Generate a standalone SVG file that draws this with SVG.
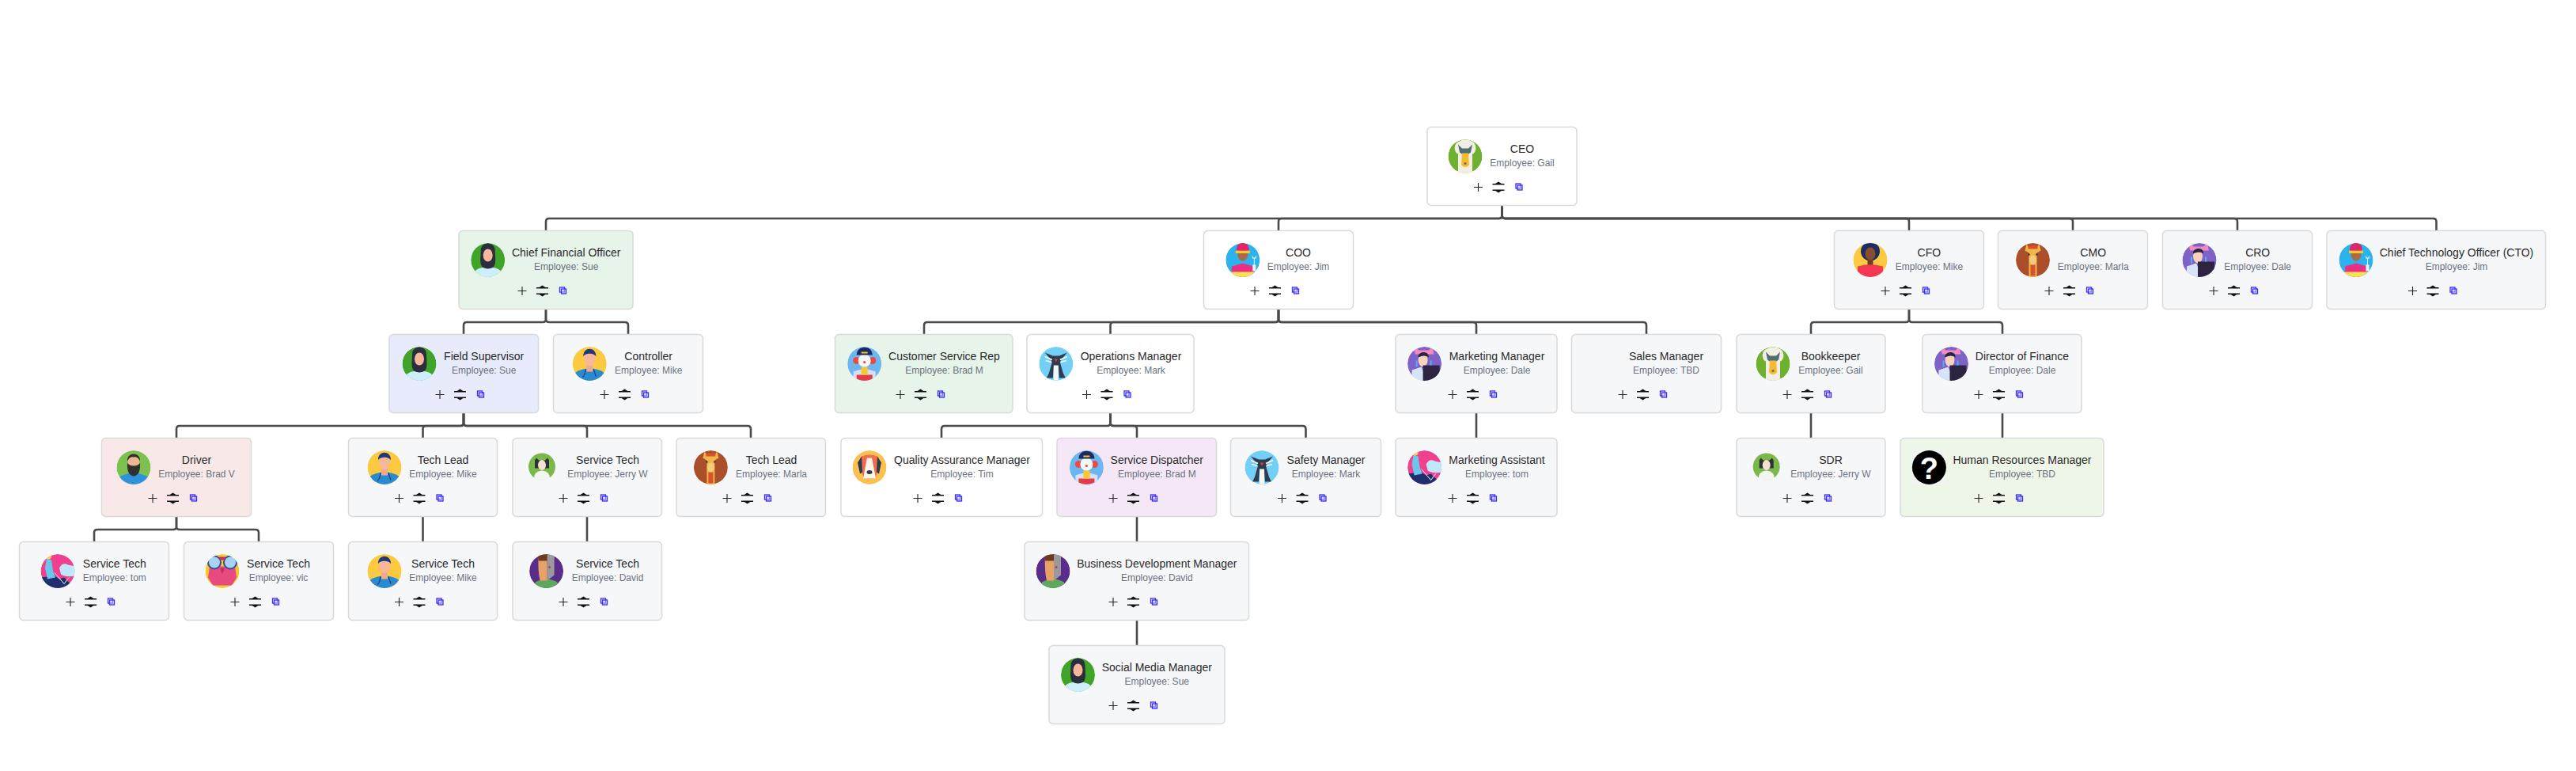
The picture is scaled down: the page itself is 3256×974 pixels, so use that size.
<svg xmlns="http://www.w3.org/2000/svg" width="3256" height="974" viewBox="0 0 3256 974">
<style>
text{text-anchor:middle;font-family:"Liberation Sans",Arial,sans-serif}
.t{font-size:14px;fill:#2a2a2a}
.s{font-size:12px;fill:#6b7280}
.b{stroke:#d9d9d9;stroke-width:1.5;fill:#f6f7f9}
.w{fill:#fff}.g{fill:#e6f4ea}.l{fill:#e8ebfb}.p{fill:#f8e8e8}.v{fill:#f4e8f7}.h{fill:#eef6e8}
#conn path{fill:none;stroke:#4a4a4a;stroke-width:2.6}
</style>
<defs>
<clipPath id="c"><circle r="21.5"/></clipPath>
<g id="ctl">
<path d="M-35.500,0H-24.500M-30,-5.500V5.500" stroke="#222" stroke-width="1.100" fill="none"/>
<path d="M-12,-3.700H3M-12,3.700H3" stroke="#111" stroke-width="1.400" fill="none"/>
<path d="M-9.500,-3.700L-4.500,-7L0.500,-3.700ZM-9.500,3.700L-4.500,7L0.500,3.700Z" fill="#111"/>
<rect x="17.500" y="-4.500" width="6" height="6" fill="none" stroke="#3a2bf5" stroke-width="1.300"/>
<rect x="19.500" y="-2.500" width="6" height="6" fill="#c9c6fb" fill-opacity=".5" stroke="#3a2bf5" stroke-width="1.300"/>
</g>
<g id="a-goose" clip-path="url(#c)"><circle r="21.5" fill="#6db12f"/>
<path d="M-9,22V-3C-15,-5 -15,-17 -7,-19C-3,-22 4,-22 8,-19C15,-17 15,-5 9,-3V22Z" fill="#f3eee3"/>
<path d="M-9,-15L-4,-10H4L9,-15L7,-5L3,-2H-3L-7,-5Z" fill="#4f6f73"/>
<path d="M-4,-4H4L5,11Q0,16 -5,11Z" fill="#f6b92f"/><circle cy="9" r="1.5" fill="#4f6f73"/></g>
<g id="a-hijab" clip-path="url(#c)"><circle r="21.5" fill="#3fa428"/>
<path d="M-20,22C-18,11 -10,9 0,9C10,9 18,11 20,22Z" fill="#cdeefb"/>
<path d="M-9,-12C-9,-24 9,-24 9,-12C9,-4 11,4 7,9Q0,13 -7,9C-11,4 -9,-4 -9,-12Z" fill="#2b2f3c"/>
<ellipse cy="-6" rx="6" ry="8" fill="#f7b6a0"/></g>
<g id="a-nurse" clip-path="url(#c)"><circle r="21.5" fill="#fcc93f"/>
<path d="M-18,22V11Q-10,6 0,6Q10,6 18,11V22Z" fill="#2a8ad0"/>
<rect x="-4" y="0" width="8" height="10" fill="#f2a98e"/>
<ellipse cy="-7" rx="7" ry="10" fill="#f9b79a"/>
<path d="M-8,-9C-9,-22 9,-22 8,-9C6,-14 -6,-14 -8,-9Z" fill="#1e3a78"/>
<path d="M-5,7Q-6,15 -9,17M5,7Q7,13 8,16" stroke="#1e3a78" stroke-width="1.2" fill="none"/></g>
<g id="a-beard" clip-path="url(#c)"><circle r="21.5" fill="#7cc04f"/>
<path d="M-18,22V12Q-8,7 0,7Q8,7 18,12V22Z" fill="#2f92dc"/>
<ellipse cy="-6" rx="7.5" ry="10" fill="#f0b593"/>
<path d="M-8,-6Q-9,10 0,11Q9,10 8,-6Q6,-2 0,-2Q-6,-2 -8,-6Z" fill="#30302f"/>
<path d="M-8,-8C-9,-20 9,-20 8,-8Q5,-14 0,-13Q-5,-14 -8,-8Z" fill="#30302f"/></g>
<g id="a-jerry"><circle r="17" fill="#7bb84a"/>
<path d="M-10,15Q-10,6 0,5Q10,6 10,15Q5,17.500 0,17.500Q-5,17.500 -10,15Z" fill="#f3f5f1"/>
<path d="M-9,-8L-7,-11L-4,-8H4L7,-11L9,-8V2H-9Z" fill="#2b3238"/>
<ellipse cy="-2" rx="5" ry="6.500" fill="#f7e0d0"/></g>
<g id="a-tom" clip-path="url(#c)"><circle r="21.5" fill="#f0408e"/>
<path d="M-22,8L-4,6L2,10L8,8L22,22H-22Z" fill="#1f2f6e"/>
<path d="M2,-4Q6,-12 13,-8L22,-6V6Q10,8 4,4Z" fill="#bfe8fb"/>
<path d="M-14,-16L-8,-14L-6,0L-3,8L-13,10L-16,-4Z" fill="#6ac7ec"/>
<circle cx="-12" cy="-19" r="4" fill="#f8d24a"/>
<path d="M-4,2L8,16L14,8" stroke="#fff" stroke-width="1" fill="none"/></g>
<g id="a-vic" clip-path="url(#c)"><circle r="21.5" fill="#f4c82e"/>
<path d="M-16,-6H16L18,8L12,18H-12L-18,8Z" fill="#e84a80"/>
<circle cx="-10" cy="-11" r="8" fill="#a7d3f5" stroke="#33509a" stroke-width="2"/>
<circle cx="10" cy="-11" r="8" fill="#a7d3f5" stroke="#33509a" stroke-width="2"/>
<path d="M-4,-18H4V-14H-4ZM-3,-4H3L0,4Z" fill="#c22f5f"/></g>
<g id="a-david" clip-path="url(#c)"><circle r="21.5" fill="#5b2d8a"/>
<path d="M-14,22V14Q0,6 14,14V22Z" fill="#5da85a"/>
<path d="M-10,-21H1V12H-8Q-11,0 -10,-21Z" fill="#e8a268"/>
<path d="M1,-21H10V5L1,12Z" fill="#9a9a9d"/>
<path d="M-11,-21H1V-13H-10Z" fill="#6e3a1f"/><circle cx="4" cy="-5" r="1.500" fill="#c8354a"/></g>
<g id="a-giraffe" clip-path="url(#c)"><circle r="21.5" fill="#ab4f2b"/>
<path d="M-8,-20L-10,-12L-5,-9L-5,22H5V-9L10,-12L8,-20L4,-15H-4Z" fill="#f0b64a"/>
<path d="M-6,-18H6V-14H-6ZM-3,6H3V20H-3Z" fill="#d9512c"/>
<ellipse cy="0" rx="4.500" ry="6" fill="#f5cc7a"/><circle cx="-5" cy="-7" r="1.200" fill="#333"/><circle cx="5" cy="-7" r="1.200" fill="#333"/></g>
<g id="a-dog" clip-path="url(#c)"><circle r="21.5" fill="#fcc04f"/>
<path d="M-10,-14Q0,-18 10,-14Q13,2 7,14H-7Q-13,2 -10,-14Z" fill="#ef6d4f"/>
<path d="M-3,-12H3L8,14H-8Z" fill="#fdf5e8"/>
<path d="M-10,-14L-15,-6L-12,8L-9,6ZM10,-14L15,-6L12,8L9,6Z" fill="#2c3a4a"/>
<ellipse cy="6" rx="3.500" ry="2.500" fill="#2c3a4a"/></g>
<g id="a-clown" clip-path="url(#c)"><circle r="21.5" fill="#6cb6f2"/>
<path d="M-14,22V10Q0,4 14,10V22Z" fill="#d8dff8"/>
<path d="M-10,14H10V22H-10Z" fill="#e53b45"/><rect x="-4" y="4" width="8" height="10" fill="#f9c72e"/>
<circle cx="-10" cy="-4" r="4.500" fill="#ec4a3e"/><circle cx="10" cy="-4" r="4.500" fill="#ec4a3e"/>
<circle cy="-4" r="8" fill="#f6f6f6"/>
<path d="M-10,-11C-10,-24 10,-24 10,-11Z" fill="#1f2a5e"/><rect x="-4" y="-15" width="8" height="2" fill="#f9c72e"/>
<circle cy="-2" r="1.500" fill="#e53b45"/></g>
<g id="a-penguin" clip-path="url(#c)"><circle r="21.5" fill="#74cff7"/>
<path d="M-14,-14L-4,-10H4L14,-14L8,-7L5,-2L9,12L12,18H4L3,4H-3L-4,18H-12L-9,12L-5,-2L-8,-7Z" fill="#2e3c4d"/>
<path d="M-14,-9L-5,-5M14,-9L5,-5M-13,-4L-6,-2M13,-4L6,-2" stroke="#fff" stroke-width="1.500"/>
<path d="M-2,-6H2L0,-2Z" fill="#e0452c"/><path d="M-3,2H3V21H-3Z" fill="#f4f7f9"/></g>
<g id="a-dale" clip-path="url(#c)"><circle r="21.5" fill="#7e62c8"/>
<path d="M-16,22V8L-4,4L4,22Z" fill="#d6e3f8"/>
<path d="M-13,-18L-12,-22L-7,-17H5L11,-22L11,-16L12,-12H-12Z" fill="#f28ac0"/>
<ellipse cx="-2" cy="-5" rx="6" ry="9" fill="#f7d3bd"/>
<path d="M-8,-8C-9,-16 6,-17 5,-8Q0,-12 -8,-8Z" fill="#2b2440"/>
<path d="M-2,2H19V22H-2Z" fill="#2c2440"/>
<path d="M-10,-4V4M8,-4V2" stroke="#4bb5ec" stroke-width="2"/></g>
<g id="a-jim" clip-path="url(#c)"><circle r="21.5" fill="#2cb3ee"/>
<path d="M-14,22V8L0,4L14,8V22Z" fill="#ec2f86"/>
<path d="M-14,15H14V22H-14Z" fill="#f9e24a"/>
<ellipse cy="-7" rx="6.500" ry="8" fill="#a96b43"/>
<rect x="-9" y="-12" width="18" height="3.500" fill="#f9c72e"/>
<path d="M-8,-12C-8,-20 -4,-21 0,-22C4,-21 8,-20 8,-12Z" fill="#e2246f"/>
<path d="M12,-6V-2H14V6H12.500V14H16.500V6H15V-2H17V-6L15.500,-3H13.500Z" fill="#eaf6fb"/></g>
<g id="a-mikef" clip-path="url(#c)"><circle r="21.5" fill="#fcc93f"/>
<path d="M-16,22V8Q0,3 16,8V22Z" fill="#f43753"/>
<circle cy="-11" r="12" fill="#1d2c63"/>
<rect x="-3.500" y="-2" width="7" height="8" fill="#6e3b24"/>
<ellipse cy="-8" rx="6.500" ry="8" fill="#8a4d2c"/></g>
<g id="a-q"><rect x="-21.500" y="-21.500" width="43" height="43" fill="#f3f3f1"/><circle r="21.500" fill="#000"/>
<text y="14" style="font:bold 38px 'Liberation Sans',sans-serif" fill="#fff">?</text></g>
</defs>
<rect width="3256" height="974" fill="#fff"/>
<g id="conn">
<path d="M1898.500,260V272Q1898.500,276 1894.500,276H694Q690,276 690,280V291"/>
<path d="M1898.500,260V272Q1898.500,276 1894.500,276H1620Q1616,276 1616,280V291"/>
<path d="M1898.500,260V272Q1898.500,276 1902.500,276H2409Q2413,276 2413,280V291"/>
<path d="M1898.500,260V272Q1898.500,276 1902.500,276H2616Q2620,276 2620,280V291"/>
<path d="M1898.500,260V272Q1898.500,276 1902.500,276H2824Q2828,276 2828,280V291"/>
<path d="M1898.500,260V272Q1898.500,276 1902.500,276H3075.500Q3079.500,276 3079.500,280V291"/>
<path d="M690,391V403Q690,407 686,407H590Q586,407 586,411V422"/>
<path d="M690,391V403Q690,407 694,407H790Q794,407 794,411V422"/>
<path d="M1616,391V403Q1616,407 1612,407H1172Q1168,407 1168,411V422"/>
<path d="M1616,391V403Q1616,407 1612,407H1407.500Q1403.500,407 1403.500,411V422"/>
<path d="M1616,391V403Q1616,407 1620,407H1862Q1866,407 1866,411V422"/>
<path d="M1616,391V403Q1616,407 1620,407H2077Q2081,407 2081,411V422"/>
<path d="M2413,391V403Q2413,407 2409,407H2293Q2289,407 2289,411V422"/>
<path d="M2413,391V403Q2413,407 2417,407H2527Q2531,407 2531,411V422"/>
<path d="M586,522V534Q586,538 582,538H227Q223,538 223,542V553"/>
<path d="M586,522V534Q586,538 582,538H538.500Q534.500,538 534.500,542V553"/>
<path d="M586,522V534Q586,538 590,538H738Q742,538 742,542V553"/>
<path d="M586,522V534Q586,538 590,538H945Q949,538 949,542V553"/>
<path d="M1403.500,522V534Q1403.500,538 1399.500,538H1194Q1190,538 1190,542V553"/>
<path d="M1403.500,522V534Q1403.500,538 1407.500,538H1433Q1437,538 1437,542V553"/>
<path d="M1403.500,522V534Q1403.500,538 1407.500,538H1646.500Q1650.500,538 1650.500,542V553"/>
<path d="M1866,522V553M2289,522V553M2531,522V553"/>
<path d="M223,653V665Q223,669 219,669H123Q119,669 119,673V684"/>
<path d="M223,653V665Q223,669 227,669H323Q327,669 327,673V684"/>
<path d="M534.500,653V684M742,653V684M1437,653V684M1437,784V815"/>
</g>
<g id="ceo" transform="translate(0,160.500)"><rect class="b w" x="1804" width="189" height="99" rx="5"/><use href="#a-goose" x="1852" y="37"/><text class="t" x="1924" y="32.500">CEO</text><text class="s" x="1924" y="49.500">Employee: Gail</text><use href="#ctl" x="1898.500" y="76"/></g>
<g id="cfino" transform="translate(0,291.500)"><rect class="b g" x="580" width="220" height="99" rx="5"/><use href="#a-hijab" x="616.700" y="37"/><text class="t" x="715.700" y="32.500">Chief Financial Officer</text><text class="s" x="715.700" y="49.500">Employee: Sue</text><use href="#ctl" x="690" y="76"/></g>
<g id="coo" transform="translate(0,291.500)"><rect class="b w" x="1521.500" width="189" height="99" rx="5"/><use href="#a-jim" x="1570.800" y="37"/><text class="t" x="1641" y="32.500">COO</text><text class="s" x="1641" y="49.500">Employee: Jim</text><use href="#ctl" x="1616" y="76"/></g>
<g id="cfo" transform="translate(0,291.500)"><rect class="b" x="2318.500" width="189" height="99" rx="5"/><use href="#a-mikef" x="2364" y="37"/><text class="t" x="2438.400" y="32.500">CFO</text><text class="s" x="2438.400" y="49.500">Employee: Mike</text><use href="#ctl" x="2413" y="76"/></g>
<g id="cmo" transform="translate(0,291.500)"><rect class="b" x="2525.500" width="189" height="99" rx="5"/><use href="#a-giraffe" x="2569.500" y="37"/><text class="t" x="2645.700" y="32.500">CMO</text><text class="s" x="2645.700" y="49.500">Employee: Marla</text><use href="#ctl" x="2620" y="76"/></g>
<g id="cro" transform="translate(0,291.500)"><rect class="b" x="2733.500" width="189" height="99" rx="5"/><use href="#a-dale" x="2780" y="37"/><text class="t" x="2853.700" y="32.500">CRO</text><text class="s" x="2853.700" y="49.500">Employee: Dale</text><use href="#ctl" x="2828" y="76"/></g>
<g id="cto" transform="translate(0,291.500)"><rect class="b" x="2941" width="276.500" height="99" rx="5"/><use href="#a-jim" x="2978" y="37"/><text class="t" x="3105" y="32.500">Chief Technology Officer (CTO)</text><text class="s" x="3105" y="49.500">Employee: Jim</text><use href="#ctl" x="3079.500" y="76"/></g>
<g id="field-supervisor" transform="translate(0,422.500)"><rect class="b l" x="492" width="188.500" height="99" rx="5"/><use href="#a-hijab" x="530" y="37"/><text class="t" x="611.700" y="32.500">Field Supervisor</text><text class="s" x="611.700" y="49.500">Employee: Sue</text><use href="#ctl" x="586" y="76"/></g>
<g id="controller" transform="translate(0,422.500)"><rect class="b" x="699.500" width="189" height="99" rx="5"/><use href="#a-nurse" x="745.300" y="37"/><text class="t" x="819.700" y="32.500">Controller</text><text class="s" x="819.700" y="49.500">Employee: Mike</text><use href="#ctl" x="794" y="76"/></g>
<g id="csr" transform="translate(0,422.500)"><rect class="b g" x="1055.500" width="224.500" height="99" rx="5"/><use href="#a-clown" x="1092.700" y="37"/><text class="t" x="1193.500" y="32.500">Customer Service Rep</text><text class="s" x="1193.500" y="49.500">Employee: Brad M</text><use href="#ctl" x="1168" y="76"/></g>
<g id="ops" transform="translate(0,422.500)"><rect class="b w" x="1298" width="211" height="99" rx="5"/><use href="#a-penguin" x="1334.800" y="37"/><text class="t" x="1429.500" y="32.500">Operations Manager</text><text class="s" x="1429.500" y="49.500">Employee: Mark</text><use href="#ctl" x="1403.500" y="76"/></g>
<g id="mm" transform="translate(0,422.500)"><rect class="b" x="1764" width="204" height="99" rx="5"/><use href="#a-dale" x="1800.600" y="37"/><text class="t" x="1892" y="32.500">Marketing Manager</text><text class="s" x="1892" y="49.500">Employee: Dale</text><use href="#ctl" x="1866" y="76"/></g>
<g id="sales" transform="translate(0,422.500)"><rect class="b" x="1986.500" width="189" height="99" rx="5"/><text class="t" x="2106" y="32.500">Sales Manager</text><text class="s" x="2106" y="49.500">Employee: TBD</text><use href="#ctl" x="2081" y="76"/></g>
<g id="bookkeeper" transform="translate(0,422.500)"><rect class="b" x="2195" width="188" height="99" rx="5"/><use href="#a-goose" x="2241" y="37"/><text class="t" x="2314" y="32.500">Bookkeeper</text><text class="s" x="2314" y="49.500">Employee: Gail</text><use href="#ctl" x="2289" y="76"/></g>
<g id="dof" transform="translate(0,422.500)"><rect class="b" x="2430" width="201" height="99" rx="5"/><use href="#a-dale" x="2466.500" y="37"/><text class="t" x="2556" y="32.500">Director of Finance</text><text class="s" x="2556" y="49.500">Employee: Dale</text><use href="#ctl" x="2531" y="76"/></g>
<g id="driver" transform="translate(0,553.500)"><rect class="b p" x="128.500" width="189" height="99" rx="5"/><use href="#a-beard" x="169" y="37"/><text class="t" x="248.500" y="32.500">Driver</text><text class="s" x="248.500" y="49.500">Employee: Brad V</text><use href="#ctl" x="223" y="76"/></g>
<g id="techlead-mike" transform="translate(0,553.500)"><rect class="b" x="440.500" width="188" height="99" rx="5"/><use href="#a-nurse" x="486" y="37"/><text class="t" x="560" y="32.500">Tech Lead</text><text class="s" x="560" y="49.500">Employee: Mike</text><use href="#ctl" x="534.500" y="76"/></g>
<g id="st-jerry" transform="translate(0,553.500)"><rect class="b" x="648" width="188.500" height="99" rx="5"/><use href="#a-jerry" x="685" y="36"/><text class="t" x="768" y="32.500">Service Tech</text><text class="s" x="768" y="49.500">Employee: Jerry W</text><use href="#ctl" x="742" y="76"/></g>
<g id="techlead-marla" transform="translate(0,553.500)"><rect class="b" x="855" width="188.500" height="99" rx="5"/><use href="#a-giraffe" x="898.400" y="37"/><text class="t" x="975" y="32.500">Tech Lead</text><text class="s" x="975" y="49.500">Employee: Marla</text><use href="#ctl" x="949" y="76"/></g>
<g id="qa" transform="translate(0,553.500)"><rect class="b w" x="1063" width="254.500" height="99" rx="5"/><use href="#a-dog" x="1099" y="37"/><text class="t" x="1216" y="32.500">Quality Assurance Manager</text><text class="s" x="1216" y="49.500">Employee: Tim</text><use href="#ctl" x="1190" y="76"/></g>
<g id="dispatcher" transform="translate(0,553.500)"><rect class="b v" x="1336" width="201.500" height="99" rx="5"/><use href="#a-clown" x="1373.400" y="37"/><text class="t" x="1462.300" y="32.500">Service Dispatcher</text><text class="s" x="1462.300" y="49.500">Employee: Brad M</text><use href="#ctl" x="1437" y="76"/></g>
<g id="safety" transform="translate(0,553.500)"><rect class="b" x="1555.500" width="190" height="99" rx="5"/><use href="#a-penguin" x="1595" y="37"/><text class="t" x="1676" y="32.500">Safety Manager</text><text class="s" x="1676" y="49.500">Employee: Mark</text><use href="#ctl" x="1650.500" y="76"/></g>
<g id="ma" transform="translate(0,553.500)"><rect class="b" x="1764" width="204" height="99" rx="5"/><use href="#a-tom" x="1800.600" y="37"/><text class="t" x="1892" y="32.500">Marketing Assistant</text><text class="s" x="1892" y="49.500">Employee: tom</text><use href="#ctl" x="1866" y="76"/></g>
<g id="sdr" transform="translate(0,553.500)"><rect class="b" x="2195" width="188" height="99" rx="5"/><use href="#a-jerry" x="2232.700" y="36"/><text class="t" x="2314" y="32.500">SDR</text><text class="s" x="2314" y="49.500">Employee: Jerry W</text><use href="#ctl" x="2289" y="76"/></g>
<g id="hr" transform="translate(0,553.500)"><rect class="b h" x="2402" width="257" height="99" rx="5"/><use href="#a-q" x="2438.400" y="37"/><text class="t" x="2556" y="32.500">Human Resources Manager</text><text class="s" x="2556" y="49.500">Employee: TBD</text><use href="#ctl" x="2531" y="76"/></g>
<g id="st-tom" transform="translate(0,684.500)"><rect class="b" x="24.500" width="189" height="99" rx="5"/><use href="#a-tom" x="73" y="37"/><text class="t" x="144.800" y="32.500">Service Tech</text><text class="s" x="144.800" y="49.500">Employee: tom</text><use href="#ctl" x="119" y="76"/></g>
<g id="st-vic" transform="translate(0,684.500)"><rect class="b" x="232.500" width="189" height="99" rx="5"/><use href="#a-vic" x="281" y="37"/><text class="t" x="352" y="32.500">Service Tech</text><text class="s" x="352" y="49.500">Employee: vic</text><use href="#ctl" x="327" y="76"/></g>
<g id="st-mike" transform="translate(0,684.500)"><rect class="b" x="440.500" width="188" height="99" rx="5"/><use href="#a-nurse" x="486" y="37"/><text class="t" x="560" y="32.500">Service Tech</text><text class="s" x="560" y="49.500">Employee: Mike</text><use href="#ctl" x="534.500" y="76"/></g>
<g id="st-david" transform="translate(0,684.500)"><rect class="b" x="648" width="188.500" height="99" rx="5"/><use href="#a-david" x="690.600" y="37"/><text class="t" x="768" y="32.500">Service Tech</text><text class="s" x="768" y="49.500">Employee: David</text><use href="#ctl" x="742" y="76"/></g>
<g id="bdm" transform="translate(0,684.500)"><rect class="b" x="1295" width="283.500" height="99" rx="5"/><use href="#a-david" x="1331" y="37"/><text class="t" x="1462.300" y="32.500">Business Development Manager</text><text class="s" x="1462.300" y="49.500">Employee: David</text><use href="#ctl" x="1437" y="76"/></g>
<g id="smm" transform="translate(0,815.500)"><rect class="b" x="1326" width="222" height="99" rx="5"/><use href="#a-hijab" x="1362.500" y="37"/><text class="t" x="1462.300" y="32.500">Social Media Manager</text><text class="s" x="1462.300" y="49.500">Employee: Sue</text><use href="#ctl" x="1437" y="76"/></g>
</svg>
